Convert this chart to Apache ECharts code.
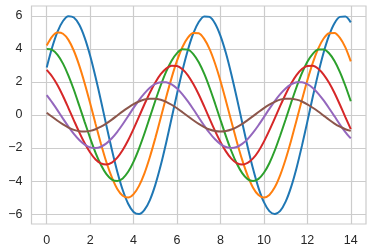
<!DOCTYPE html>
<html><head><meta charset="utf-8">
<script src="https://cdn.jsdelivr.net/npm/echarts@6/dist/echarts.min.js"></script>
<style>html,body{margin:0;padding:0;background:#fff}#c{width:373px;height:252px}</style>
</head><body><div id="c"></div>
<script>
const xValues = [0,0.25,0.5,0.75,1,1.25,1.5,1.75,2,2.25,2.5,2.75,3,3.25,3.5,3.75,4,4.25,4.5,4.75,5,5.25,5.5,5.75,6,6.25,6.5,6.75,7,7.25,7.5,7.75,8,8.25,8.5,8.75,9,9.25,9.5,9.75,10,10.25,10.5,10.75,11,11.25,11.5,11.75,12,12.25,12.5,12.75,13,13.25,13.5,13.75,14];
const series1 = [2.88,4.09,5.05,5.69,5.98,5.90,5.46,4.67,3.59,2.29,0.85,-0.65,-2.10,-3.43,-4.54,-5.37,-5.87,-6.00,-5.75,-5.15,-4.23,-3.05,-1.68,-0.20,1.29,2.70,3.94,4.94,5.63,5.97,5.94,5.54,4.79,3.75,2.47,1.04,-0.45,-1.92,-3.26,-4.41,-5.28,-5.82,-6.00,-5.81,-5.25,-4.37,-3.22,-1.87,-0.40,1.10,2.52,3.79,4.82,5.56,5.94,5.96,5.61];
const series2 = [4.21,4.75,4.99,4.92,4.55,3.89,2.99,1.91,0.71,-0.54,-1.75,-2.86,-3.78,-4.48,-4.89,-5.00,-4.79,-4.29,-3.53,-2.54,-1.40,-0.17,1.08,2.25,3.29,4.12,4.69,4.97,4.95,4.61,3.99,3.12,2.06,0.87,-0.38,-1.60,-2.72,-3.67,-4.40,-4.85,-5.00,-4.84,-4.38,-3.64,-2.68,-1.56,-0.33,0.91,2.10,3.16,4.02,4.63,4.95,4.97,4.67,4.09,3.25];
const series3 = [3.99,3.94,3.64,3.11,2.39,1.53,0.56,-0.43,-1.40,-2.29,-3.03,-3.58,-3.91,-4.00,-3.84,-3.44,-2.82,-2.03,-1.12,-0.13,0.86,1.80,2.63,3.29,3.75,3.98,3.96,3.69,3.19,2.50,1.65,0.70,-0.30,-1.28,-2.18,-2.94,-3.52,-3.88,-4.00,-3.87,-3.50,-2.92,-2.15,-1.24,-0.27,0.73,1.68,2.53,3.22,3.70,3.96,3.97,3.74,3.27,2.60,1.77,0.83];
const series4 = [2.73,2.33,1.80,1.15,0.42,-0.32,-1.05,-1.71,-2.27,-2.69,-2.93,-3.00,-2.88,-2.58,-2.12,-1.53,-0.84,-0.10,0.65,1.35,1.97,2.47,2.81,2.98,2.97,2.77,2.40,1.87,1.24,0.52,-0.23,-0.96,-1.63,-2.20,-2.64,-2.91,-3.00,-2.90,-2.63,-2.19,-1.61,-0.93,-0.20,0.55,1.26,1.89,2.41,2.78,2.97,2.98,2.80,2.45,1.95,1.33,0.62,-0.13,-0.86];
const series5 = [1.20,0.76,0.28,-0.22,-0.70,-1.14,-1.51,-1.79,-1.96,-2.00,-1.92,-1.72,-1.41,-1.02,-0.56,-0.07,0.43,0.90,1.31,1.65,1.88,1.99,1.98,1.85,1.60,1.25,0.82,0.35,-0.15,-0.64,-1.09,-1.47,-1.76,-1.94,-2.00,-1.94,-1.75,-1.46,-1.07,-0.62,-0.13,0.37,0.84,1.26,1.61,1.85,1.98,1.99,1.87,1.64,1.30,0.88,0.41,-0.08,-0.58,-1.03,-1.42];
const series6 = [0.14,-0.11,-0.35,-0.57,-0.76,-0.90,-0.98,-1.00,-0.96,-0.86,-0.71,-0.51,-0.28,-0.03,0.22,0.45,0.66,0.82,0.94,0.99,0.99,0.92,0.80,0.62,0.41,0.17,-0.08,-0.32,-0.54,-0.73,-0.88,-0.97,-1.00,-0.97,-0.88,-0.73,-0.54,-0.31,-0.07,0.18,0.42,0.63,0.80,0.93,0.99,0.99,0.93,0.82,0.65,0.44,0.21,-0.04,-0.29,-0.52,-0.71,-0.86,-0.96];
const xTicks = [0,2,4,6,8,10,12,14];
const yTicks = [-6,-4,-2,0,2,4,6];
const colors = ['#1f77b4','#ff7f0e','#2ca02c','#d62728','#9467bd','#8c564b'];
const allSeries = [series1,series2,series3,series4,series5,series6];

const chart = echarts.init(document.getElementById('c'), null, {renderer:'canvas'});
const fontFamily = '"Liberation Sans", Arial, sans-serif';
chart.setOption({
  animation:false,
  backgroundColor:'#fff',
  grid:{left:31.5,right:7,top:6,bottom:28,show:true,borderColor:'#cccccc',borderWidth:1.2,backgroundColor:'transparent'},
  xAxis:{type:'value',min:-0.7,max:14.7,
    axisLine:{show:false},axisTick:{show:false,customValues:xTicks},
    axisLabel:{customValues:xTicks,color:'#262626',fontSize:12.5,fontFamily:fontFamily,margin:10,formatter:v=>String(v).replace('-','\u2212')},
    splitLine:{show:true,lineStyle:{color:'#cccccc',width:1.2}}},
  yAxis:{type:'value',min:-6.6,max:6.6,
    axisLine:{show:false},axisTick:{show:false,customValues:yTicks},
    axisLabel:{customValues:yTicks,color:'#262626',fontSize:12.5,fontFamily:fontFamily,margin:9,formatter:v=>String(v).replace('-','\u2212')},
    splitLine:{show:true,lineStyle:{color:'#cccccc',width:1.2}}},
  series: allSeries.map((s,i)=>({type:'line',data:xValues.map((x,j)=>[x,s[j]]),smooth:0.25,symbol:'none',
    lineStyle:{color:colors[i],width:2},itemStyle:{color:colors[i]},z:2+i}))
});
</script></body></html>
